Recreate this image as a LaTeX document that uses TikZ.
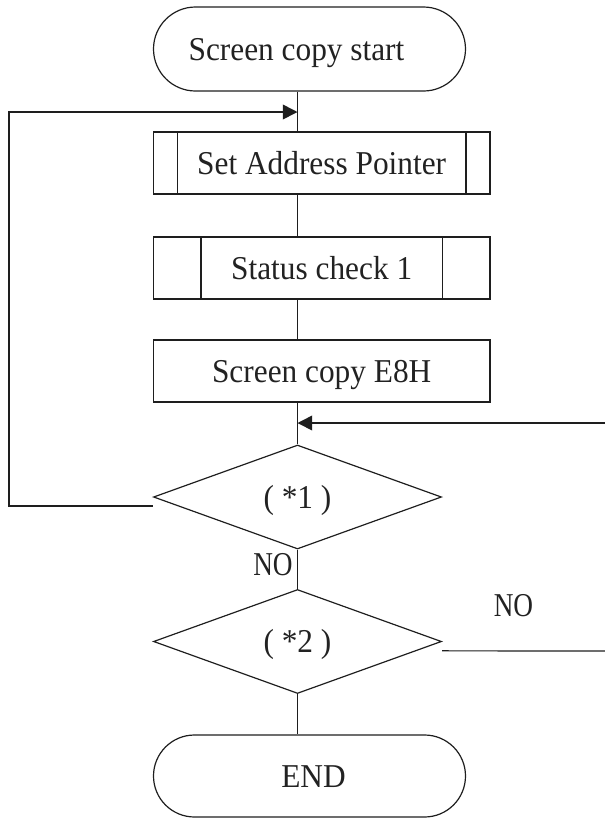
\documentclass[tikz,border=0pt]{standalone}
\usepackage{fontspec}
\setmainfont{Liberation Serif}[FakeStretch=0.94]
\usetikzlibrary{shapes.geometric, shapes.misc, arrows.meta}

\tikzset{
  every node/.style={text={rgb, 255:red, 34; green, 34; blue, 34}, text height=16.5pt, text depth=0pt},
  term/.style={rounded rectangle, draw={rgb, 255:red, 30; green, 30; blue, 30}, line width=0.9pt, minimum width=234pt, minimum height=#1, inner sep=0pt},
  proc/.style={draw={rgb, 255:red, 30; green, 30; blue, 30}, line width=0.9pt, minimum width=252.4pt, minimum height=46.5pt, inner sep=0pt},
  subproc/.style={proc, path picture={
      \draw [line width=0.9pt] ([xshift=#1]path picture bounding box.north west) -- ([xshift=#1]path picture bounding box.south west);
      \draw [line width=0.9pt] ([xshift=-#1]path picture bounding box.north east) -- ([xshift=-#1]path picture bounding box.south east);}},
  decide/.style={diamond, draw={rgb, 255:red, 30; green, 30; blue, 30}, line width=0.9pt, minimum width=216pt, minimum height=78pt, inner sep=0pt},
  link/.style={draw={rgb, 255:red, 30; green, 30; blue, 30}, line width=0.9pt},
  loopback/.style={link, line width=1.2pt, -{Triangle[length=11pt,width=11pt]}},
}

\begin{document}
\begin{tikzpicture}[x=0.75pt,y=0.75pt,yscale=-1,xscale=1, font=\fontsize{25}{30}\selectfont]
    \useasboundingbox (0,0) rectangle (605,819);

    %Shape: Terminal [start]
    \node [term=63pt] (start) at (309.5,49) {\hspace*{-19.5pt}Screen copy start};
    %Shape: Predefined Process [setaddr]
    \node [subproc=18pt] (setaddr) at (321.7,163) {Set Address Pointer};
    %Shape: Predefined Process [status]
    \node [subproc=35.6pt] (status) at (321.7,268) {Status check 1};
    %Shape: Process [copy]
    \node [proc] (copy) at (321.7,371) {Screen copy E8H};
    %Shape: Decision [check1]
    \node [decide] (check1) at (297.5,497) {( *1 )};
    %Shape: Decision [check2]
    \node [decide] (check2) at (297.5,641.5) {( *2 )};
    %Shape: Terminal [finish]
    \node [term=61.5pt] (finish) at (309.5,776) {\hspace*{6pt}END};

    %Free ends
    \coordinate (backleft) at (9,112);
    \coordinate (jointop) at (297.5,112);
    \coordinate (edgein) at (605,423);
    \coordinate (joinmid) at (297.5,423);
    \coordinate (edgeout) at (605,651);

    %Straight Lines
    \draw [link] (start.south -| check1) -- (setaddr.north -| check1);
    \draw [link] (setaddr.south -| check1) -- (status.north -| check1);
    \draw [link] (status.south -| check1) -- (copy.north -| check1);
    \draw [link] (copy.south -| check1) -- (check1.north);
    \draw [link] (check1.south) -- (check2.north);
    \draw [link] (check2.south) -- (finish.north -| check2);
    %Loop back to top
    \draw [loopback] ([yshift=6.75pt]check1.west) -| (backleft) -- (jointop);
    %Return from right
    \draw [loopback] (edgein) -- (joinmid);
    \draw [link] ([yshift=7pt]check2.east) -- (edgeout);

    % Text Node
    \node (no1) at (273,564.5) {\scalebox{0.87}[1]{NO}};
    % Text Node
    \node (no2) at (513.5,605.5) {\scalebox{0.87}[1]{NO}};
\end{tikzpicture}
\end{document}
